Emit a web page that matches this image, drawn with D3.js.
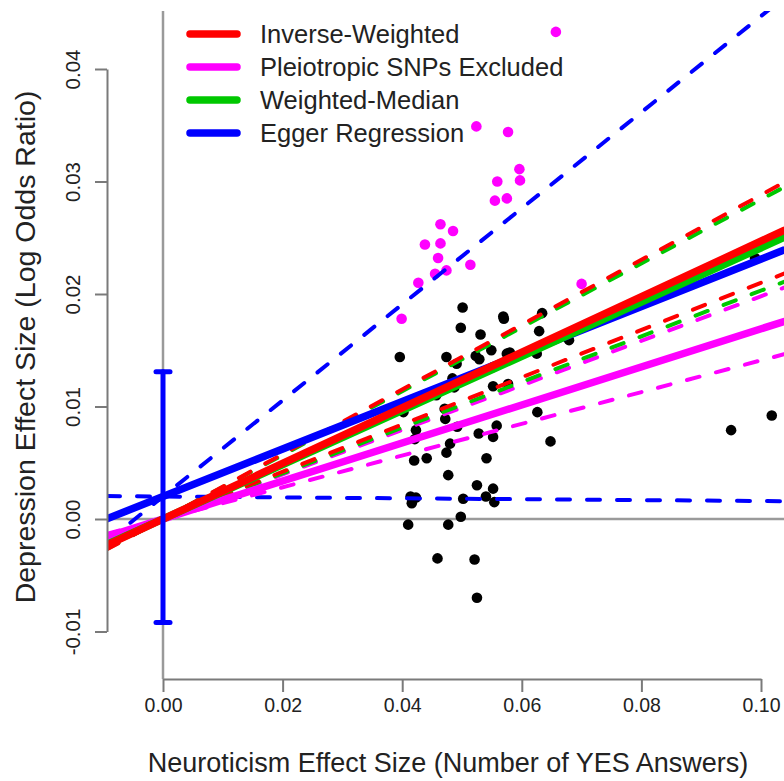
<!DOCTYPE html>
<html lang="en">
<head>
  <meta charset="UTF-8">
  <title>Neuroticism vs Depression effect sizes</title>
  <script src="https://d3js.org/d3.v7.min.js"></script>
  <style>
    body { margin: 0; background: #fff; }
    svg { display: block; font-family: "Liberation Sans", Arial, sans-serif; }
    .axis path, .axis line { stroke: #7a7a7a; stroke-width: 2px; }
    .axis text { fill: #222; }
  </style>
</head>
<body>
  <svg id="chart" width="784" height="781"></svg>

  <script>
    // methods, in legend order
    const methods = ["Inverse-Weighted", "Pleiotropic SNPs Excluded", "Weighted-Median", "Egger Regression"];
    const colors = ["#ff0000", "#ff00ff", "#00c800", "#0000ff"];
    const slopes = [0.247, 0.169, 0.241, 0.211];
    const intercepts = [0, 0, 0, 0.002];
    const slopeLow = [0.210, 0.198, 0.203, -0.004];
    const slopeHigh = [0.288, 0.141, 0.284, 0.427];
    const eggerInterceptCI = [-0.0092, 0.0131];

    // SNPs kept (black)
    const snpX = [0.0501, 0.0569, 0.0570, 0.0634, 0.0498, 0.0531, 0.0629, 0.0679, 0.0396, 0.0474,
                  0.0523, 0.0529, 0.0549, 0.0575, 0.0580, 0.0625, 0.0491, 0.0552, 0.0484, 0.0487,
                  0.0552, 0.0577, 0.0402, 0.0457, 0.0471, 0.0472, 0.0423, 0.0492, 0.0558, 0.0626,
                  0.0528, 0.0552, 0.0648, 0.0421, 0.0480, 0.0474, 0.0420, 0.0441, 0.0541, 0.0477,
                  0.0525, 0.0552, 0.0414, 0.0423, 0.0416, 0.0502, 0.0540, 0.0554, 0.0498, 0.0410,
                  0.0477, 0.0459, 0.0521, 0.0525, 0.0990, 0.0950, 0.1018];
    const snpY = [0.0188, 0.0180, 0.0178, 0.0183, 0.0170, 0.0164, 0.0167, 0.0159, 0.0144, 0.0144,
                  0.0145, 0.0142, 0.0150, 0.0147, 0.0148, 0.0147, 0.0138, 0.0135, 0.0125, 0.0117,
                  0.0118, 0.0120, 0.0095, 0.0110, 0.0098, 0.0089, 0.0079, 0.0082, 0.0083, 0.0095,
                  0.0076, 0.0073, 0.0069, 0.0071, 0.0067, 0.0059, 0.0052, 0.0054, 0.0054, 0.0039,
                  0.0030, 0.0027, 0.0020, 0.0019, 0.0014, 0.0018, 0.0020, 0.0015, 0.0002, -0.0005,
                  -0.0005, -0.0035, -0.0036, -0.0070, 0.0232, 0.0079, 0.0092];

    // pleiotropic SNPs (magenta)
    const pleioX = [0.0657, 0.0524, 0.0577, 0.0596, 0.0597, 0.0559, 0.0555, 0.0575, 0.0464, 0.0485,
                    0.0438, 0.0464, 0.0460, 0.0514, 0.0455, 0.0474, 0.0427, 0.0700, 0.0399];
    const pleioY = [0.0433, 0.0349, 0.0344, 0.0311, 0.0301, 0.0300, 0.0283, 0.0285, 0.0262, 0.0256,
                    0.0244, 0.0245, 0.0232, 0.0226, 0.0218, 0.0221, 0.0210, 0.0209, 0.0178];

    const xTicks = [0, 0.02, 0.04, 0.06, 0.08, 0.10];
    const yTicks = [-0.01, 0, 0.01, 0.02, 0.03, 0.04];
    // R style labels: plain hyphen for the minus sign
    const fmt = d => d.toFixed(2);

    const svg = d3.select("#chart");
    const x = d3.scaleLinear().domain([0, 0.10]).range([163, 761]);
    const y = d3.scaleLinear().domain([-0.01, 0.04]).range([631.5, 69]);

    // plot region (in pixels) and the same in data units
    const plot = { left: 107, right: 784, top: 11, bottom: 679 };
    const xMin = x.invert(plot.left), xMax = x.invert(plot.right);

    svg.append("clipPath").attr("id", "plotClip")
      .append("rect")
      .attr("x", plot.left).attr("y", plot.top)
      .attr("width", plot.right - plot.left).attr("height", plot.bottom - plot.top);

    const body = svg.append("g").attr("clip-path", "url(#plotClip)");

    // reference lines at zero
    body.append("line")
      .attr("x1", plot.left).attr("x2", plot.right)
      .attr("y1", y(0)).attr("y2", y(0))
      .attr("stroke", "#9a9a9a").attr("stroke-width", 2.5);
    body.append("line")
      .attr("x1", x(0)).attr("x2", x(0))
      .attr("y1", plot.top).attr("y2", plot.bottom)
      .attr("stroke", "#9a9a9a").attr("stroke-width", 2.5);

    // points
    body.append("g").selectAll("circle")
      .data(snpX.map((d, i) => [d, snpY[i]]))
      .join("circle")
      .attr("cx", d => x(d[0])).attr("cy", d => y(d[1]))
      .attr("r", 5.3).attr("fill", "#000");

    body.append("g").selectAll("circle")
      .data(pleioX.map((d, i) => [d, pleioY[i]]))
      .join("circle")
      .attr("cx", d => x(d[0])).attr("cy", d => y(d[1]))
      .attr("r", 5.3).attr("fill", "#ff00ff");

    const line = d3.line().x(d => x(d[0])).y(d => y(d[1]));
    const seg = (a, b) => [[xMin, a + b * xMin], [xMax, a + b * xMax]];

    // dashed CI lines, drawn back to front (Egger first, IVW last)
    const order = [3, 1, 2, 0];
    order.forEach(i => {
      [slopeLow[i], slopeHigh[i]].forEach(s => {
        body.append("path")
          .attr("d", line(seg(intercepts[i], s)))
          .attr("fill", "none")
          .attr("stroke", colors[i])
          .attr("stroke-width", 4)
          .attr("stroke-linecap", "round")
          .attr("stroke-dasharray", "13,17");
      });
    });

    // estimate lines
    order.forEach(i => {
      body.append("path")
        .attr("d", line(seg(intercepts[i], slopes[i])))
        .attr("fill", "none")
        .attr("stroke", colors[i])
        .attr("stroke-width", 7.5)
        .attr("stroke-linecap", "round");
    });

    // Egger intercept interval
    const eb = body.append("g").attr("stroke", "#0000ff").attr("stroke-linecap", "round");
    eb.append("line")
      .attr("x1", x(0)).attr("x2", x(0))
      .attr("y1", y(eggerInterceptCI[0])).attr("y2", y(eggerInterceptCI[1]))
      .attr("stroke-width", 5);
    eggerInterceptCI.forEach(v => {
      eb.append("line")
        .attr("x1", x(0) - 7).attr("x2", x(0) + 7)
        .attr("y1", y(v)).attr("y2", y(v))
        .attr("stroke-width", 5);
    });

    // axes
    const xAxis = svg.append("g").attr("class", "axis")
      .attr("transform", `translate(0,${plot.bottom})`)
      .call(d3.axisBottom(x).tickValues(xTicks).tickFormat(fmt)
        .tickSize(13).tickSizeOuter(0));
    xAxis.selectAll(".tick text")
      .attr("y", 33).attr("dy", 0)
      .style("font-size", "19.5px");

    const yAxis = svg.append("g").attr("class", "axis")
      .attr("transform", `translate(${plot.left},0)`)
      .call(d3.axisLeft(y).tickValues(yTicks).tickFormat(fmt)
        .tickSize(12).tickSizeOuter(0));
    yAxis.selectAll(".tick text")
      .attr("transform", "rotate(-90)")
      .attr("x", 0).attr("y", -27).attr("dy", 0)
      .attr("text-anchor", "middle")
      .style("font-size", "20.5px");
    svg.selectAll(".axis").attr("font-family", null).attr("font-size", null);

    // axis titles
    svg.append("text")
      .attr("x", 448).attr("y", 772)
      .attr("text-anchor", "middle")
      .attr("fill", "#222")
      .style("font-size", "27px")
      .text("Neuroticism Effect Size (Number of YES Answers)");

    svg.append("text")
      .attr("transform", "translate(35,347) rotate(-90)")
      .attr("text-anchor", "middle")
      .attr("fill", "#222")
      .style("font-size", "28.5px")
      .text("Depression Effect Size (Log Odds Ratio)");

    // legend
    const legend = svg.append("g");
    methods.forEach((m, i) => {
      const ly = 34 + i * 33;
      legend.append("line")
        .attr("x1", 190).attr("x2", 237)
        .attr("y1", ly).attr("y2", ly)
        .attr("stroke", colors[i]).attr("stroke-width", 7.5)
        .attr("stroke-linecap", "round");
      legend.append("text")
        .attr("x", 260).attr("y", ly).attr("dy", "0.36em")
        .attr("fill", "#222")
        .style("font-size", "25.5px")
        .text(m);
    });
  </script>
</body>
</html>
